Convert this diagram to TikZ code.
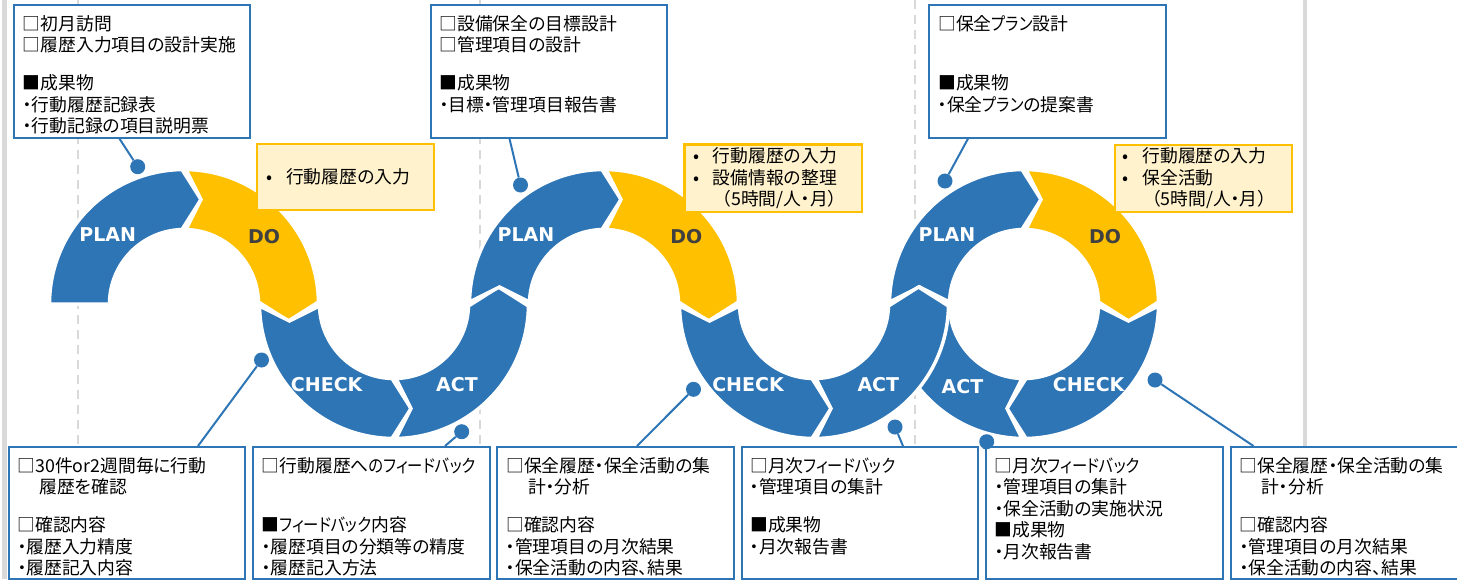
\documentclass[tikz,border=0pt]{standalone}
\usepackage{fontspec}
\usepackage{graphicx}
\usetikzlibrary{calc}
\newfontfamily\jp[RawFeature=+palt]{Noto Sans CJK JP}
\newfontfamily\labfont{DejaVu Sans}
\definecolor{pblue}{HTML}{2E75B6}
\definecolor{pyel}{HTML}{FFC000}
\definecolor{pyfill}{HTML}{FFF2CC}
\definecolor{pgray}{HTML}{D9D9D9}
\definecolor{pdark}{HTML}{404040}
\newcommand\kn[1]{\scalebox{0.86}[1]{#1}}
\def\pdRo{134.5}
\def\pdRi{74.5}
\def\pdRm{104.5}
\def\pdL{17}
\def\pdEp{2}
% #1,#2 centre, #3 start angle, #4 end angle, #5 colour, #6 notch (1/0)
\newcommand\pdseg[6]{%
 \pgfmathsetmacro\pdD{ifthenelse(#4>#3,1,-1)}%
 \pgfmathsetmacro\pdAo{\pdD*\pdEp/\pdRo*57.2958}%
 \pgfmathsetmacro\pdAi{\pdD*\pdEp/\pdRi*57.2958}%
 \pgfmathsetmacro\pdSo{#3+#6*\pdAo}%
 \pgfmathsetmacro\pdEo{#4-\pdAo}%
 \pgfmathsetmacro\pdSi{#3+#6*\pdAi}%
 \pgfmathsetmacro\pdEi{#4-\pdAi}%
 \pgfmathsetmacro\pdTx{#1+\pdRm*cos(#4)-\pdD*\pdL*sin(#4)}%
 \pgfmathsetmacro\pdTy{#2+\pdRm*sin(#4)+\pdD*\pdL*cos(#4)}%
 \pgfmathsetmacro\pdNx{#1+\pdRm*cos(#3)-#6*\pdD*\pdL*sin(#3)}%
 \pgfmathsetmacro\pdNy{#2+\pdRm*sin(#3)+#6*\pdD*\pdL*cos(#3)}%
 \path[segstyle, fill=#5] ($(#1,#2)+(\pdSo:\pdRo)$) arc[start angle=\pdSo, end angle=\pdEo, radius=\pdRo]
   -- (\pdTx,\pdTy) -- ($(#1,#2)+(\pdEi:\pdRi)$) arc[start angle=\pdEi, end angle=\pdSi, radius=\pdRi]
   -- (\pdNx,\pdNy) -- cycle;
}
\tikzset{
 segstyle/.style={draw=white, line width=3.5pt, line join=miter},
 tbox/.style={draw=pblue, line width=2.2pt, fill=white, inner sep=0pt, anchor=north west},
 ybox/.style={draw=pyel, line width=2.4pt, fill=pyfill, inner sep=0pt, anchor=north west},
 btext/.style={font=\jp\fontsize{17.8}{21.5}\selectfont, align=left, inner sep=0pt, anchor=north west, text=black},
 lab/.style={font=\labfont\bfseries\fontsize{19}{19}\selectfont, inner sep=0pt},
 dotn/.style={circle, fill=pblue, minimum size=15pt, inner sep=0pt},
 conn/.style={draw=pblue, line width=2pt},
 gline/.style={draw=pgray, line width=2.5pt, dash pattern=on 9pt off 6pt},
 gsolid/.style={draw=pgray, line width=4.5pt},
}
\begin{document}
\begin{tikzpicture}[x=1pt,y=-1pt]
\useasboundingbox (0,0) rectangle (1457,579);
% background guide lines
\draw[gsolid] (4.5,0) -- (4.5,579);
\draw[gsolid] (1305,0) -- (1305,579);
\draw[gline] (78,0) -- (78,447);
\draw[gline] (480,0) -- (480,447);
\draw[gline] (915,0) -- (915,447);
% PDCA bands
\pdseg{184}{304}{180}{270}{pblue}{0}
\pdseg{184}{304}{270}{360}{pyel}{1}
\pdseg{394}{304}{180}{90}{pblue}{1}
\pdseg{394}{304}{90}{0}{pblue}{1}
\pdseg{604}{304}{180}{270}{pblue}{1}
\pdseg{604}{304}{270}{360}{pyel}{1}
\pdseg{814}{304}{180}{90}{pblue}{1}
\pdseg{1024}{304}{180}{270}{pblue}{1}
\pdseg{1024}{304}{270}{360}{pyel}{1}
\pdseg{1024}{304}{360}{450}{pblue}{1}
\pdseg{1024}{304}{450}{540}{pblue}{1}
\pdseg{814}{304}{90}{0}{pblue}{1}
% band labels
\node[lab, text=white] (lp1) at (107.7,235) {PLAN};
\node[lab, text=pdark] (ld1) at (264,237) {DO};
\node[lab, text=white] (lc1) at (326.7,385) {CHECK};
\node[lab, text=white] (la1) at (457,385) {ACT};
\node[lab, text=white] (lp2) at (526,235) {PLAN};
\node[lab, text=pdark] (ld2) at (686.3,237) {DO};
\node[lab, text=white] (lc2) at (748,385) {CHECK};
\node[lab, text=white] (la2) at (878.3,385) {ACT};
\node[lab, text=white] (lp3) at (947,235) {PLAN};
\node[lab, text=pdark] (ld3) at (1105,237) {DO};
\node[lab, text=white] (la3) at (962.5,386.7) {ACT};
\node[lab, text=white] (lc3) at (1088.7,385) {CHECK};
% top boxes
\node[tbox, minimum width=236.5pt, minimum height=133pt] (t1) at (12.5,3.5) {};
\node[tbox, minimum width=236.5pt, minimum height=133pt] (t2) at (429.5,3.5) {};
\node[tbox, minimum width=236.5pt, minimum height=133pt] (t3) at (928,3.5) {};
\node[btext] (t1x) at (22.7,15.3) {□初月訪問\\□履歴入力項目の設計実施\\[16.5pt]■成果物\\・行動履歴記録表\\・行動記録の項目説明票};
\node[btext] (t2x) at (439.3,15.3) {□設備保全の目標設計\\□管理項目の設計\\[16.5pt]■成果物\\・目標・管理項目報告書};
\node[btext] (t3x) at (938,15.3) {□保全\kn{プラン}設計\\[38pt]■成果物\\・保全\kn{プラン}の提案書};
% yellow boxes
\node[ybox, minimum width=177pt, minimum height=66.5pt] (y1) at (256,142.5) {};
\node[ybox, minimum width=177.4pt, minimum height=67.4pt] (y2) at (683.3,143.3) {};
\node[ybox, minimum width=177.5pt, minimum height=67.5pt] (y3) at (1113.5,143.5) {};
\node[btext] (y1x) at (266,168.6) {\makebox[20pt][l]{•}行動履歴の入力};
\node[btext] (y2x) at (693,147.6) {\makebox[19.7pt][l]{•}行動履歴の入力\\\makebox[19.7pt][l]{•}設備情報の整理\\\hspace{29pt}（5時間/人・月）};
\node[btext] (y3x) at (1122.7,147.6) {\makebox[19.7pt][l]{•}行動履歴の入力\\\makebox[19.7pt][l]{•}保全活動\\\hspace{29pt}（5時間/人・月）};
% bottom boxes
\node[tbox, minimum width=236.5pt, minimum height=132pt] (b1) at (7.5,446) {};
\node[tbox, minimum width=236.5pt, minimum height=132pt] (b2) at (252,446) {};
\node[tbox, minimum width=236.5pt, minimum height=132pt] (b3) at (496,446) {};
\node[tbox, minimum width=236.5pt, minimum height=132pt] (b4) at (740.5,446) {};
\node[tbox, minimum width=236.5pt, minimum height=132pt] (b5) at (985,446) {};
\node[tbox, minimum width=236.5pt, minimum height=132pt] (b6) at (1229.5,446) {};
\node[btext] (b1x) at (17.3,457) {□30件or2週間毎に行動\\\hspace{22pt}履歴を確認\\[16.5pt]□確認内容\\・履歴入力精度\\・履歴記入内容};
\node[btext] (b2x) at (261.7,457) {□行動履歴へ\kn{のフィードバック}\\[38pt]■\kn{フィードバック}内容\\・履歴項目の分類等の精度\\・履歴記入方法};
\node[btext] (b3x) at (506,457) {□保全履歴・保全活動の集\\\hspace{22pt}計・分析\\[16.5pt]□確認内容\\・管理項目の月次結果\\・保全活動の内容、結果};
\node[btext] (b4x) at (750,457) {□月次\kn{フィードバック}\\・管理項目の集計\\[16.5pt]■成果物\\・月次報告書};
\node[btext] (b5x) at (994.3,457) {□月次\kn{フィードバック}\\・管理項目の集計\\・保全活動の実施状況\\■成果物\\・月次報告書};
\node[btext] (b6x) at (1239.3,457) {□保全履歴・保全活動の集\\\hspace{22pt}計・分析\\[16.5pt]□確認内容\\・管理項目の月次結果\\・保全活動の内容、結果};
% dots and connectors
\node[dotn] (d1) at (137.7,166.7) {};
\node[dotn] (d2) at (520.5,185) {};
\node[dotn] (d3) at (945,181) {};
\node[dotn] (d4) at (261.5,360) {};
\node[dotn] (d5) at (461.7,431.7) {};
\node[dotn] (d6) at (693.5,389.3) {};
\node[dotn] (d7) at (895,427) {};
\node[dotn] (d8) at (986.7,441.7) {};
\node[dotn] (d9) at (1155,380) {};
\draw[conn] (d1) -- ([xshift=107pt]t1.south west);
\draw[conn] (d2) -- ([xshift=80pt]t2.south west);
\draw[conn] (d3) -- ([xshift=40pt]t3.south west);
\draw[conn] (d4) -- ([xshift=190.5pt]b1.north west);
\draw[conn] (d5) -- ([xshift=193pt]b2.north west);
\draw[conn] (d6) -- ([xshift=141pt]b3.north west);
\draw[conn] (d7) -- ([xshift=162.5pt]b4.north west);
\draw[conn] (d8) -- (b5.north west);
\draw[conn] (d9) -- ([xshift=24pt]b6.north west);
\end{tikzpicture}
\end{document}
